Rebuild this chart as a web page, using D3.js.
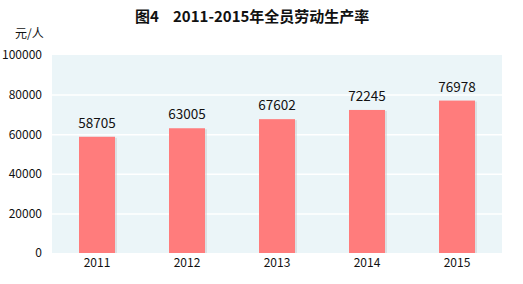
<!DOCTYPE html>
<html>
<head>
<meta charset="utf-8">
<script src="https://cdn.jsdelivr.net/npm/d3@7"></script>
<style>
  body { margin: 0; background: #fff; }
  text { font-family: "Noto Sans CJK SC", "DejaVu Sans", sans-serif; }
</style>
</head>
<body>
<svg width="523" height="284"></svg>
<script>
const years  = ["2011", "2012", "2013", "2014", "2015"];
const values = [58705, 63005, 67602, 72245, 76978];
const yTicks = [0, 20000, 40000, 60000, 80000, 100000];

const svg = d3.select("svg");
const margin = {left: 52, right: 21, top: 55, bottom: 31};
const W = 523, H = 284;

const x = d3.scaleBand()
    .domain(years)
    .range([margin.left, W - margin.right])
    .paddingInner(0.6)
    .paddingOuter(0.3);

const y = d3.scaleLinear()
    .domain([0, 100000])
    .range([H - margin.bottom, margin.top]);

// plot background
svg.append("rect")
    .attr("x", margin.left)
    .attr("y", margin.top)
    .attr("width", W - margin.left - margin.right)
    .attr("height", H - margin.top - margin.bottom)
    .attr("fill", "#ebf5f8");

// grid lines
svg.append("g")
    .selectAll("line")
    .data(yTicks.slice(1, -1))
    .join("line")
    .attr("x1", margin.left)
    .attr("x2", W - margin.right)
    .attr("y1", d => y(d) + 0.5)
    .attr("y2", d => y(d) + 0.5)
    .attr("stroke", "#fff")
    .attr("stroke-width", 1.5);

// bar shadow
svg.append("g")
    .selectAll("rect")
    .data(values)
    .join("rect")
    .attr("x", (d, i) => x(years[i]) + 2)
    .attr("y", d => y(d) + 1)
    .attr("width", x.bandwidth())
    .attr("height", d => y(0) - y(d) - 1)
    .attr("fill", "#c9c9c9")
    .attr("opacity", 0.5);

// bars
svg.append("g")
    .selectAll("rect")
    .data(values)
    .join("rect")
    .attr("x", (d, i) => x(years[i]))
    .attr("y", d => y(d))
    .attr("width", x.bandwidth())
    .attr("height", d => y(0) - y(d))
    .attr("fill", "#ff7c7c");

// value labels
svg.append("g")
    .selectAll("text")
    .data(values)
    .join("text")
    .attr("x", (d, i) => x(years[i]) + x.bandwidth() / 2)
    .attr("y", d => y(d) - 9)
    .attr("text-anchor", "middle")
    .attr("font-size", 13.5)
    .attr("fill", "#111")
    .text(d => d);

// y axis
const yAxis = svg.append("g")
    .attr("transform", `translate(${margin.left - 10},0)`)
    .call(d3.axisLeft(y).tickValues(yTicks).tickSize(0).tickPadding(0).tickFormat(d3.format("d")));
yAxis.select(".domain").remove();
yAxis.selectAll("text").attr("font-size", 12).attr("fill", "#111");

// x axis
const xAxis = svg.append("g")
    .attr("transform", `translate(0,${H - margin.bottom})`)
    .call(d3.axisBottom(x).tickSize(0).tickPadding(5));
xAxis.select(".domain").remove();
xAxis.selectAll("text").attr("font-size", 12).attr("fill", "#111");

// unit label
svg.append("text")
    .attr("x", 15)
    .attr("y", 38)
    .attr("font-size", 12)
    .attr("fill", "#111")
    .text("元/人");

// title
const title = svg.append("text")
    .attr("y", 22)
    .attr("font-size", 15)
    .attr("font-weight", "bold")
    .attr("fill", "#111");
title.append("tspan").attr("x", 135).text("图4");
title.append("tspan").attr("x", 173).text("2011-2015年全员劳动生产率");
</script>
</body>
</html>
